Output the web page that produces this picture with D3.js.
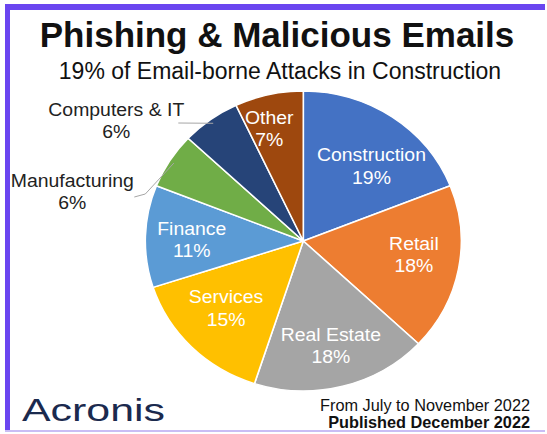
<!DOCTYPE html>
<html><head><meta charset="utf-8">
<script src="https://cdn.jsdelivr.net/npm/d3@7"></script>
<style>html,body{margin:0;padding:0;background:#fff;}svg{display:block;font-family:"Liberation Sans",Arial,sans-serif;}</style>
</head><body>
<script>
const categories = ["Construction","Retail","Real Estate","Services","Finance","Manufacturing","Computers & IT","Other"];
const values = [19,18,18,15,11,6,6,7];
const colors = ["#4472C4","#ED7D31","#A5A5A5","#FFC000","#5B9BD5","#70AD47","#264478","#9E480E"];
const title = "Phishing & Malicious Emails";
const subtitle = "19% of Email-borne Attacks in Construction";
const footer1 = "From July to November 2022";
const footer2 = "Published December 2022";
const brand = "Acronis";

const W = 547, H = 434;
const svg = d3.select("body").append("svg").attr("width", W).attr("height", H);

// frame
svg.append("rect").attr("x",5).attr("y",4).attr("width",540).attr("height",6).attr("fill","#6A45F0");
svg.append("rect").attr("x",5).attr("y",4).attr("width",5).attr("height",428).attr("fill","#6A45F0");
svg.append("rect").attr("x",5).attr("y",430).attr("width",540).attr("height",2).attr("fill","#C9BDF5");

svg.append("text").attr("x",277).attr("y",47).attr("text-anchor","middle")
  .attr("font-size",35).attr("font-weight","bold").attr("fill","#111").text(title);
svg.append("text").attr("x",280).attr("y",79).attr("text-anchor","middle")
  .attr("font-size",23).attr("fill","#111").text(subtitle);

const cx = 303.3, cy = 241, R = 150, sx = 158/150;
const pie = d3.pie().sort(null).value(d => d)(values);
const arc = d3.arc().innerRadius(0).outerRadius(R);
const lblArc = d3.arc().innerRadius(R*0.70).outerRadius(R*0.70);
const outArc = d3.arc().innerRadius(R*0.97).outerRadius(R*0.97);

const g = svg.append("g").attr("transform", `translate(${cx},${cy}) scale(${sx},1)`);
g.selectAll("path").data(pie).join("path")
  .attr("d", arc).attr("fill", (d,i) => colors[i])
  .attr("stroke","#fff").attr("stroke-width",1.5);

const gl = svg.append("g").attr("transform", `translate(${cx},${cy})`);
// small per-label nudges to mimic the original label placement
const nudge = {0:[6,10],1:[2,-8],2:[0,1],3:[1,-9],4:[-1,0],7:[-10,-12]};
pie.forEach((d,i) => {
  if (!nudge[i]) return;
  const c = lblArc.centroid(d);
  const t = gl.append("text").attr("text-anchor","middle").attr("font-size",18.5).attr("fill","#fff")
    .attr("transform", `translate(${c[0]*sx + nudge[i][0]},${c[1] + nudge[i][1]}) scale(1.05,1)`);
  t.append("tspan").attr("x",0).attr("dy","-0.15em").text(categories[i]);
  t.append("tspan").attr("x",0).attr("dy","1.2em").text(values[i] + "%");
});

// outside labels with leader lines
const lo = [
  {i:5, x:-231, y:-54, pts:(p)=>[[p[0],p[1]],[-158,-47],[-169,-44]]},
  {i:6, x:-187, y:-125, pts:(p)=>[[p[0],p[1]],[-125,-118]]}
];
lo.forEach(o => {
  const d = pie[o.i];
  const c = outArc.centroid(d);
  const p = [c[0]*sx, c[1]];
  gl.append("path").attr("d", d3.line()(o.pts(p)))
    .attr("fill","none").attr("stroke","#A6A6A6").attr("stroke-width",1);
  const t = gl.append("text").attr("text-anchor","middle").attr("font-size",18.5).attr("fill","#222")
    .attr("transform", `translate(${o.x},${o.y}) scale(1.05,1)`);
  t.append("tspan").attr("x",0).attr("dy","0em").text(categories[o.i]);
  t.append("tspan").attr("x",0).attr("dy","1.2em").text(values[o.i] + "%");
});

svg.append("text").attr("x",22).attr("y",421).attr("font-size",32).attr("fill","#1B2A4E")
  .attr("textLength",143).attr("lengthAdjust","spacingAndGlyphs").text(brand);
svg.append("text").attr("x",530).attr("y",411).attr("text-anchor","end").attr("font-size",16.3).attr("fill","#111").text(footer1);
svg.append("text").attr("x",530).attr("y",428).attr("text-anchor","end").attr("font-size",16.3).attr("font-weight","bold").attr("fill","#111").text(footer2);
</script>
</body></html>
